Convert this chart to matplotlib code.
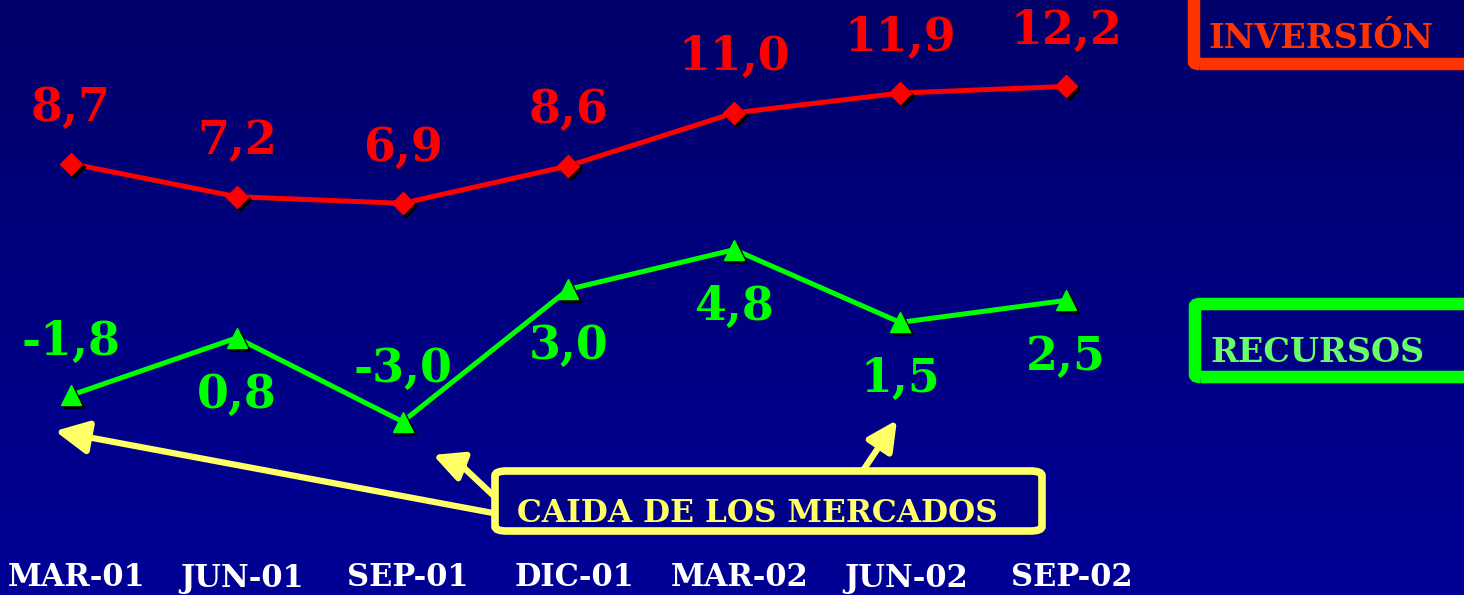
import numpy as np
import matplotlib
matplotlib.use("Agg")
import matplotlib.pyplot as plt
import matplotlib.transforms as mtrans
from matplotlib.patches import FancyBboxPatch
from matplotlib.colors import LinearSegmentedColormap

# data
periods = ["MAR-01", "JUN-01", "SEP-01", "DIC-01", "MAR-02", "JUN-02", "SEP-02"]
inversion = [8.7, 7.2, 6.9, 8.6, 11.0, 11.9, 12.2]
recursos = [-1.8, 0.8, -3.0, 3.0, 4.8, 1.5, 2.5]
recursos_label_above = [True, False, True, False, False, False, False]

W, H = 1464, 595
fig = plt.figure(figsize=(W / 100, H / 100), dpi=100)
serif = "DejaVu Serif"

def fx(px):
    return px / W

def fy(py):
    # pixel measured from the top -> figure fraction
    return 1 - py / H

# gradient background
bg = fig.add_axes([0, 0, 1, 1])
bg.set_axis_off()
grad = np.linspace(0, 1, 256).reshape(-1, 1)
cmap = LinearSegmentedColormap.from_list("bg", ["#00006a", "#000096"])
bg.imshow(grad, aspect="auto", cmap=cmap, extent=[0, 1, 0, 1], origin="upper")

ax = fig.add_axes([0, 0, 1, 1])
ax.patch.set_alpha(0)
x = np.arange(len(periods))
ax.set_xlim(-0.428, 8.4)
ax.set_ylim(-10.86, 16.12)
ax.set_axis_off()

def fmt(v):
    return f"{v:.1f}".replace(".", ",")

shadow = mtrans.offset_copy(ax.transData, fig=fig, x=3, y=-3, units="dots")

# INVERSION line (red)
ax.plot(x, inversion, color="#ff0000", lw=3.6, zorder=3)
ax.plot(x, inversion, ls="none", marker="D", ms=11, color="black", transform=shadow, zorder=3)
ax.plot(x, inversion, ls="none", marker="D", ms=11, color="#ff0000", zorder=4)
for xi, v in zip(x, inversion):
    ax.annotate(fmt(v), (xi, v), xytext=(0, 40), textcoords="offset points",
                ha="center", va="center", color="#ff0000", fontsize=33,
                fontweight="bold", family=serif)

# RECURSOS line (green)
ax.plot(x, recursos, color="#00ff00", lw=3.6, zorder=3)
ax.plot(x, recursos, ls="none", marker="^", ms=14, color="black", transform=shadow, zorder=3)
ax.plot(x, recursos, ls="none", marker="^", ms=14, color="#00ff00", zorder=4)
for xi, v, up in zip(x, recursos, recursos_label_above):
    ax.annotate(fmt(v), (xi, v), xytext=(0, 38 if up else -41), textcoords="offset points",
                ha="center", va="center", color="#00ff00", fontsize=33,
                fontweight="bold", family=serif)

# category labels along the bottom
for xi, p in zip(x, periods):
    ax.annotate(p, (xi, 17 / H), xycoords=ax.get_xaxis_transform(),
                xytext=(4, 0), textcoords="offset points", ha="center", va="center",
                color="white", fontsize=22, fontweight="bold", family=serif)

# legend boxes
inv_box = FancyBboxPatch((fx(1194), fy(64)), fx(400), 120 / H,
                         boxstyle="round,pad=0,rounding_size=0.004",
                         transform=fig.transFigure, fc="none", ec="#ff3300", lw=9)
fig.add_artist(inv_box)
fig.text(fx(1208), fy(48), "INVERSIÓN", ha="left", va="baseline", color="#ff3300",
         fontsize=24, fontweight="bold", family=serif)

rec_box = FancyBboxPatch((fx(1195), fy(377)), fx(400), 73 / H,
                         boxstyle="round,pad=0,rounding_size=0.004",
                         transform=fig.transFigure, fc="none", ec="#00ff00", lw=9)
fig.add_artist(rec_box)
fig.text(fx(1210), fy(362), "RECURSOS", ha="left", va="baseline", color="#66ff66",
         fontsize=24, fontweight="bold", family=serif)

# annotation: market drop
yel = "#ffff66"
arrow_kw = dict(arrowstyle="-|>,head_length=1.0,head_width=0.5", color=yel, lw=4.5,
                mutation_scale=20, shrinkA=0, shrinkB=0)
small_head = "-|>,head_length=0.9,head_width=0.45"
ax.annotate("", xy=(55, H - 431), xycoords="figure pixels",
            xytext=(493, H - 513), textcoords="figure pixels",
            arrowprops=arrow_kw, annotation_clip=False)
ax.annotate("", xy=(462, H - 466), xycoords="figure pixels",
            xytext=(495, H - 497), textcoords="figure pixels",
            arrowprops=dict(arrowstyle="-", color=yel, lw=4.5, shrinkA=0, shrinkB=0),
            annotation_clip=False)
ax.annotate("", xy=(433, H - 455), xycoords="figure pixels",
            xytext=(464, H - 467), textcoords="figure pixels",
            arrowprops=dict(arrow_kw, arrowstyle=small_head),
            annotation_clip=False)
ax.annotate("", xy=(897, H - 420), xycoords="figure pixels",
            xytext=(862, H - 472), textcoords="figure pixels",
            arrowprops=dict(arrow_kw, arrowstyle=small_head),
            annotation_clip=False)

cb = FancyBboxPatch((fx(495), fy(531)), fx(547), 60 / H,
                    boxstyle="round,pad=0,rounding_size=0.008",
                    transform=fig.transFigure, fc="#000088", ec=yel, lw=5.5)
fig.add_artist(cb)
fig.text(fx(517), fy(522), "CAIDA DE LOS MERCADOS", ha="left", va="baseline", color=yel,
         fontsize=22.5, fontweight="bold", family=serif)

fig.savefig("out.png", dpi=100)
